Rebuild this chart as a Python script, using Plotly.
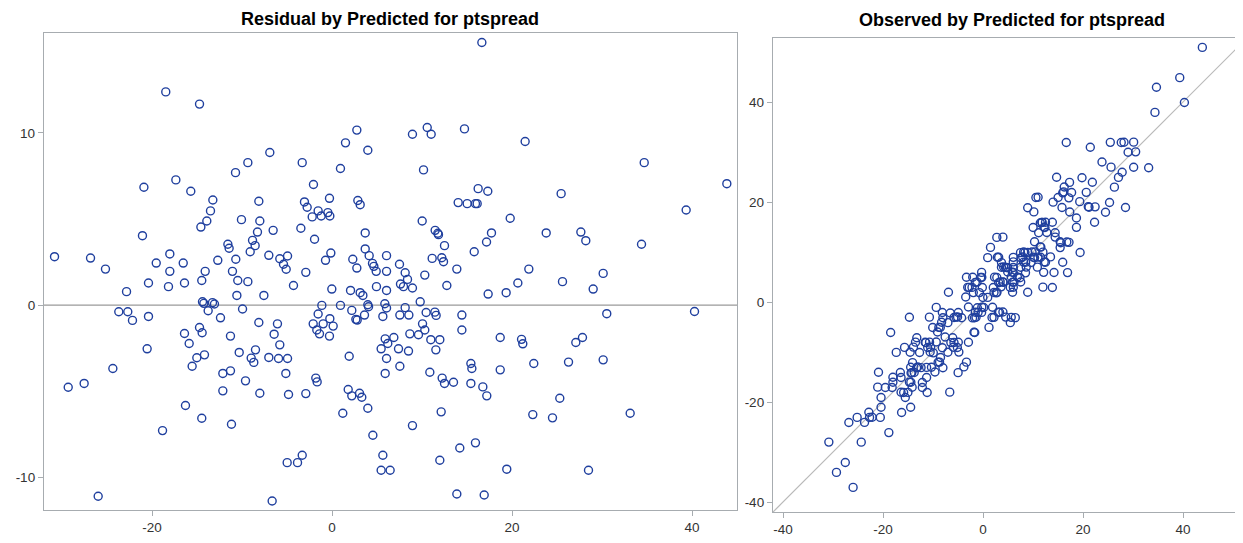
import plotly.graph_objects as go

# Predicted values and residuals for ptspread
predicted = [
    -18.47, -14.72, -6.91, -9.35, -10.72, -20.9, -17.35, -15.69, -13.24, -8.13,
    -13.5, -13.91, -14.57, -10.06, -8.02, -8.28, -6.54, -21.06, -8.83, -11.57,
    -11.43, -8.54, -9.09, -30.83, -26.83, -25.17, -18.02, -19.53, -16.53, -12.69,
    -10.69, -7.02, -18.02, -14.09, -11.06,
    16.65, 2.76, 1.5, 3.98, -3.31, 0.94, 8.94, 10.58, 11.02, 14.72,
    10.17, -2.06, -0.28, -3.06, -2.76, 2.87, 3.13, -1.54, -0.46, -2.2,
    -1.2, -0.24, 16.24, 17.31, 14.02, 15.02, 15.94, 16.13, 19.8, 10.02,
    -3.46, 3.69, -1.94, 11.46, 11.76, 11.83, 12.5, 17.72, 17.17, 15.8,
    3.69, 4.13, -0.13, -0.72, -5.8, -4.94, -5.39, -5.09, -2.91, 2.31,
    2.76, 4.5, 4.65, 4.91, 6.06, 6.06, 7.5, 8.13, 10.31, 11.13,
    12.2, 12.39, 13.87,
    21.46, 34.69, 43.87, 25.46, 39.35, 23.8, 27.65, 28.2, 34.39, 21.87, 30.13,
    20.65, 25.61, 29.02, 19.35, 17.35, 30.53, 40.28, 21.06, 21.2, 27.83,
    27.09, 22.42, 26.28, 30.13, 25.31, 22.31, 24.5, 33.13, 19.42, 28.5,
    -20.39, -18.17, -16.39, -14.47, -10.47, -9.35, -22.83, -10.57, -7.57, -14.39,
    -14.24, -13.28, -13.06, -13.76, -23.69, -22.69, -22.17, -20.39, -12.39, -9.94,
    -8.13, -6.06, -6.43, -16.39, -14.72, -14.43, -11.28, -15.87, -20.54, -10.31,
    -8.5, -8.98, -8.69, -7.02, -5.94, -4.94, -15.02, -14.17, -15.54, -24.35,
    -12.13, -11.28, -9.61, -12.13, -8.02, -29.31, -27.54, -16.28, -14.47, -11.17,
    -18.83, -25.98, -6.65,
    -4.28, -0.02, 2.06, 3.13, 3.43, 4.94, 6.06, 7.61, 7.94, 8.39,
    8.94, 12.76, -1.13, 0.94, 3.98, 4.06, 5.87, 6.06, 9.8, -1.54,
    2.2, 3.61, 2.65, 2.8, 5.65, 7.54, 8.13, 8.54, 10.46, 11.43,
    11.57, 14.43, -2.09, -0.98, -0.24, 0.13, -1.69, -1.39, -0.28, 10.06,
    10.31, 8.65, 9.61, 14.43, 10.98, 11.98, 11.54, 5.91, 6.2, 6.87,
    5.46, 7.39, 8.5, 6.06, 7.54, 5.91, -5.8, -5.13, 1.91, -1.8,
    -1.65, -4.83, -2.91, 1.8, 2.2, 3.06, 3.31, 3.98, 1.2, 10.87,
    12.24, 12.5, 13.5, 15.43, 15.54, 15.43, 16.76, 17.2, 12.13, 8.94,
    4.54, 14.2, 15.94, 11.98, -4.98, -3.83, -3.31, 5.65, 5.46, 6.46,
    13.87, 16.91, 18.69, 18.69,
]
residual = [
    12.38, 11.67, 8.86, 8.27, 7.69, 6.84, 7.27, 6.61, 6.10, 6.03,
    5.47, 4.88, 4.53, 4.96, 4.88, 4.24, 4.34, 4.03, 3.76, 3.53,
    3.30, 3.45, 3.10, 2.81, 2.73, 2.09, 2.97, 2.44, 2.44, 2.60,
    2.66, 2.89, 1.96, 1.96, 1.96,
    15.25, 10.16, 9.42, 8.99, 8.27, 7.93, 9.92, 10.31, 9.92, 10.23,
    7.85, 7.0, 6.20, 5.99, 5.68, 6.07, 5.83, 5.47, 5.37, 5.12,
    5.17, 5.17, 6.76, 6.61, 5.95, 5.89, 5.89, 5.89, 5.04, 4.88,
    4.46, 4.19, 3.82, 4.34, 4.17, 4.09, 3.45, 4.19, 3.66, 3.10,
    3.26, 2.87, 3.02, 2.60, 2.69, 2.85, 2.37, 2.08, 1.90, 2.66,
    2.15, 2.42, 2.25, 1.96, 2.87, 1.96, 2.37, 1.88, 1.74, 2.71,
    2.75, 2.52, 2.09,
    9.50, 8.27, 7.05, 6.47, 5.52, 4.19, 4.24, 3.74, 3.53, 2.09, 1.84,
    1.28, 1.36, 0.93, 0.72, 0.64, -0.50, -0.37, -1.99, -2.25, -1.88,
    -2.17, -3.39, -3.31, -3.18, -5.41, -6.36, -6.55, -6.28, -9.53, -9.59,
    1.28, 1.07, 1.28, 1.43, 1.43, 1.36, 0.78, 0.56, 0.56, 0.19,
    0.10, 0.14, 0.06, -0.33, -0.39, -0.39, -0.89, -0.66, -0.74, -0.23,
    -1.01, -1.09, -1.69, -1.65, -1.30, -1.61, -1.80, -2.23, -2.54, -2.75,
    -2.60, -3.08, -3.33, -3.04, -3.10, -3.10, -3.06, -2.89, -3.55, -3.68,
    -3.97, -3.82, -4.40, -4.98, -5.12, -4.77, -4.55, -5.83, -6.57, -6.92,
    -7.29, -11.1, -11.38,
    1.14, 0.93, 0.85, 0.72, 0.56, 1.07, 0.85, 1.22, 1.07, 1.49,
    0.99, 1.14, -0.02, -0.02, 0.02, -0.10, 0.08, -0.17, 0.19, -0.52,
    -0.31, -0.58, -0.83, -0.87, -0.66, -0.58, -0.15, -0.58, -0.43, -0.41,
    -0.60, -0.58, -1.09, -1.09, -0.79, -1.22, -1.45, -1.67, -1.80, -1.09,
    -1.45, -1.67, -1.72, -1.45, -2.01, -2.01, -2.60, -1.96, -2.23, -1.88,
    -2.54, -2.54, -2.67, -3.10, -3.55, -3.97, -2.31, -3.97, -2.97, -4.24,
    -4.46, -5.19, -5.14, -4.90, -5.27, -5.12, -5.35, -5.99, -6.28, -3.90,
    -4.24, -4.55, -4.48, -3.39, -3.68, -4.55, -4.75, -5.27, -6.20, -7.0,
    -7.56, -8.30, -8.0, -9.01, -9.15, -9.15, -8.72, -8.72, -9.59, -9.59,
    -10.97, -11.03, -1.88, -3.76,
]
observed = [p + r for p, r in zip(predicted, residual)]

left_xticks = [-20, 0, 20, 40]
left_xlabels = ["-20", "0", "20", "40"]
left_yticks = [-10, 0, 10]
left_ylabels = ["-10", "0", "10"]
right_ticks = [-40, -20, 0, 20, 40]
right_labels = ["-40", "-20", "0", "20", "40"]

left_xrange = [-32, 45]
left_yrange = [-11.9, 15.8]
right_xrange = [-42, 52]
right_yrange = [-42, 52.8]

marker_color = "#1f3f9e"
frame_color = "#a7acb0"
font_family = "Liberation Sans, Arial, sans-serif"

fig = go.Figure()
mk = dict(symbol="circle-open", size=8, color=marker_color, line=dict(width=1.4, color=marker_color))
fig.add_trace(go.Scatter(
    x=predicted, y=residual, mode="markers", xaxis="x", yaxis="y",
    marker=mk, showlegend=False, hoverinfo="skip"))

diag = [min(right_xrange[0], right_yrange[0]), max(right_xrange[1], right_yrange[1])]
fig.add_trace(go.Scatter(
    x=diag, y=diag, mode="lines", xaxis="x2", yaxis="y2",
    line=dict(color="#b9b9b9", width=1.2), showlegend=False, hoverinfo="skip"))
fig.add_trace(go.Scatter(
    x=predicted, y=observed, mode="markers", xaxis="x2", yaxis="y2",
    marker=mk, showlegend=False, hoverinfo="skip"))

# page body has an 8px margin; size and place the figure to compensate
OFF = 8
W, H = 1243 - OFF, 543 - OFF
def px_x(p):
    return (p - OFF) / W
def px_y(p):
    return 1 - (p - OFF) / H

def ax(**kw):
    base = dict(showgrid=False, zeroline=False, showline=True, linecolor=frame_color, linewidth=1.3,
                mirror=True, ticks="outside", ticklen=5, tickcolor=frame_color, tickwidth=1,
                tickfont=dict(family=font_family, size=13.5, color="#333333"))
    base.update(kw)
    return base

fig.update_layout(
    width=W, height=H, margin=dict(l=0, r=0, t=0, b=0),
    paper_bgcolor="white", plot_bgcolor="white",
    xaxis=ax(domain=[px_x(44), px_x(737)], range=left_xrange, tickvals=left_xticks,
             ticktext=left_xlabels, anchor="y"),
    yaxis=ax(domain=[px_y(510), px_y(33)], range=left_yrange, tickvals=left_yticks,
             ticktext=left_ylabels, anchor="x"),
    xaxis2=ax(domain=[px_x(773), 1.0], range=right_xrange, tickvals=right_ticks,
              ticktext=right_labels, anchor="y2"),
    yaxis2=ax(domain=[px_y(512), px_y(38)], range=right_yrange, tickvals=right_ticks,
              ticktext=right_labels, anchor="x2"),
    shapes=[dict(type="line", xref="x domain", yref="y", x0=0, x1=1, y0=0, y1=0,
                 line=dict(color="#9a9a9a", width=1.2), layer="below")],
    annotations=[
        dict(text="<b>Residual by Predicted for ptspread</b>", x=px_x(390), y=1.0,
             xref="paper", yref="paper", showarrow=False, xanchor="center", yanchor="top",
             borderpad=0, font=dict(family=font_family, size=18, color="#000000")),
        dict(text="<b>Observed by Predicted for ptspread</b>", x=px_x(1012), y=px_y(20),
             xref="paper", yref="paper", showarrow=False, xanchor="center", yanchor="middle",
             borderpad=0, font=dict(family=font_family, size=18, color="#000000")),
    ],
)

fig.write_html("out.html")
